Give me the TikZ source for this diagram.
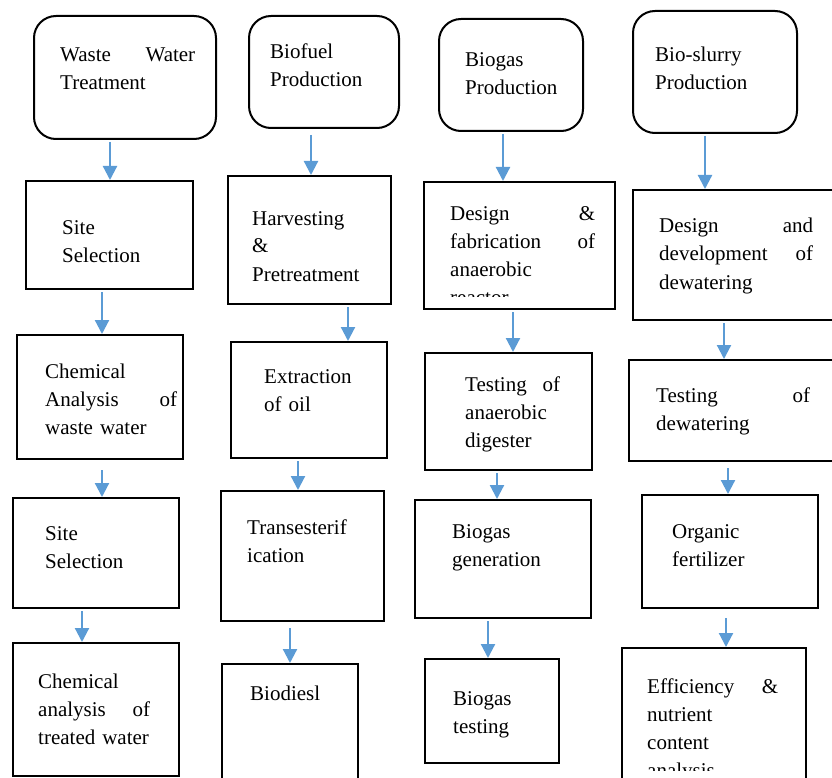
\documentclass[tikz,border=0pt]{standalone}
\usepackage{fontspec}
\setmainfont{Liberation Serif}
\usetikzlibrary{arrows.meta}

\definecolor{flowblue}{RGB}{91,155,213}

\begin{document}
\begin{tikzpicture}[
  x=1pt,y=-1pt,
  font=\fontsize{21}{28}\selectfont,
  start/.style={draw,line width=2pt,rounded corners=22pt,anchor=north west,inner sep=0pt},
  proc/.style={draw,line width=2pt,anchor=north west,inner sep=0pt},
  lbl/.style={anchor=base west,inner sep=0pt,align=left},
  flow/.style={draw=flowblue,line width=2.2pt,-{Triangle[width=14pt,length=14pt]},shorten <=2pt},
]
\useasboundingbox (0,0) rectangle (832,778);
\clip (0,0) rectangle (832,778);

% ---------- waste water column ----------
\node[start,minimum width=182,minimum height=123] (ww) at (33,15) {};
\node[lbl,text width=135] (wwt) at (60,62) {Waste\hfill Water\\Treatment};
\node[proc,minimum width=167,minimum height=108] (ss1) at (25,180) {};
\node[lbl,text width=120] (ss1t) at (62,234) {Site\\Selection};
\node[proc,minimum width=166,minimum height=124] (ca1) at (16,334) {};
\node[lbl,text width=132] (ca1t) at (45,378) {Chemical\\Analysis\hfill of\\waste water};
\node[proc,minimum width=166,minimum height=110] (ss2) at (12,497) {};
\node[lbl,text width=120] (ss2t) at (45,540) {Site\\Selection};
\node[proc,minimum width=166,minimum height=133] (ca2) at (12,642) {};
\node[lbl,text width=112] (ca2t) at (38,688) {Chemical\\analysis\hfill of\\treated water};

\draw[flow] (ww.south -| 110,0) -- (ss1.north -| 110,0);
\draw[flow] (ss1.south -| 102,0) -- (ca1.north -| 102,0);
\draw[flow] (ca1.south -| 102,0) ++(0,8) -- (ss2.north -| 102,0);
\draw[flow] (ss2.south -| 82,0) -- (ca2.north -| 82,0);

% ---------- biofuel column ----------
\node[start,minimum width=150,minimum height=112] (bf) at (248,15) {};
\node[lbl,text width=110] (bft) at (270,59) {Biofuel\\Production};
\node[proc,minimum width=163,minimum height=128] (hp) at (227,175) {};
\node[lbl,text width=130] (hpt) at (252,225) {Harvesting\\\&\\Pretreatment};
\node[proc,minimum width=156,minimum height=116] (eo) at (230,341) {};
\node[lbl,text width=110] (eot) at (264,383) {Extraction\\of oil};
\node[proc,minimum width=163,minimum height=130] (tr) at (220,490) {};
\node[lbl,text width=120] (trt) at (247,534) {Transesterif\\ication};
\node[proc,minimum width=136,minimum height=130] (bd) at (221,663) {};
\node[lbl,text width=100] (bdt) at (250,700) {Biodiesl};

\draw[flow] (bf.south -| 311,0) ++(0,4) -- (hp.north -| 311,0);
\draw[flow] (hp.south -| 348,0) -- (eo.north -| 348,0);
\draw[flow] (eo.south -| 298,0) -- (tr.north -| 298,0);
\draw[flow] (tr.south -| 290,0) ++(0,4) -- (bd.north -| 290,0);

% ---------- biogas column ----------
\node[start,minimum width=144,minimum height=112] (bg) at (438,18) {};
\node[lbl,text width=110] (bgt) at (465,67) {Biogas\\Production};
\node[proc,minimum width=191,minimum height=127] (df) at (423,181) {};
\begin{scope}
  \clip (423,181) rectangle (614,296);
  \node[lbl,text width=145] (dft) at (450,220) {Design\hfill\&\\fabrication\hfill of\\anaerobic\\reactor};
\end{scope}
\node[proc,minimum width=167,minimum height=117] (td) at (424,352) {};
\node[lbl,text width=95] (tdt) at (465,391) {Testing\hfill of\\anaerobic\\digester};
\node[proc,minimum width=176,minimum height=118] (gn) at (414,499) {};
\node[lbl,text width=120] (gnt) at (452,538) {Biogas\\generation};
\node[proc,minimum width=134,minimum height=104] (bt) at (424,658) {};
\node[lbl,text width=100] (btt) at (453,705) {Biogas\\testing};

\draw[flow] (bg.south -| 503,0) -- (df.north -| 503,0);
\draw[flow] (df.south -| 513,0) -- (td.north -| 513,0);
\draw[flow] (td.south -| 497,0) -- (gn.north -| 497,0);
\draw[flow] (gn.south -| 488,0) -- (bt.north -| 488,0);

% ---------- bio-slurry column ----------
\node[start,minimum width=164,minimum height=122] (bs) at (632,10) {};
\node[lbl,text width=120] (bst) at (655,62) {Bio-slurry\\Production};
\node[proc,minimum width=210,minimum height=130] (dd) at (632,189) {};
\node[lbl,text width=154] (ddt) at (659,233) {Design\hfill and\\development\hfill of\\dewatering};
\node[proc,minimum width=214,minimum height=101] (tw) at (628,359) {};
\node[lbl,text width=154] (twt) at (656,402) {Testing\hfill of\\dewatering};
\node[proc,minimum width=176,minimum height=113] (of) at (641,494) {};
\node[lbl,text width=120] (oft) at (672,538) {Organic\\fertilizer};
\node[proc,minimum width=184,minimum height=143] (en) at (621,647) {};
\begin{scope}
  \clip (621,647) rectangle (805,770);
  \node[lbl,text width=131] (ent) at (647,693) {Efficiency\hfill\&\\nutrient\\content\\analysis};
\end{scope}

\draw[flow] (bs.south -| 705,0) -- (dd.north -| 705,0);
\draw[flow] (dd.south -| 724,0) -- (tw.north -| 724,0);
\draw[flow] (tw.south -| 728,0) ++(0,4) -- (of.north -| 728,0);
\draw[flow] (of.south -| 726,0) ++(0,7) -- (en.north -| 726,0);

\end{tikzpicture}
\end{document}
